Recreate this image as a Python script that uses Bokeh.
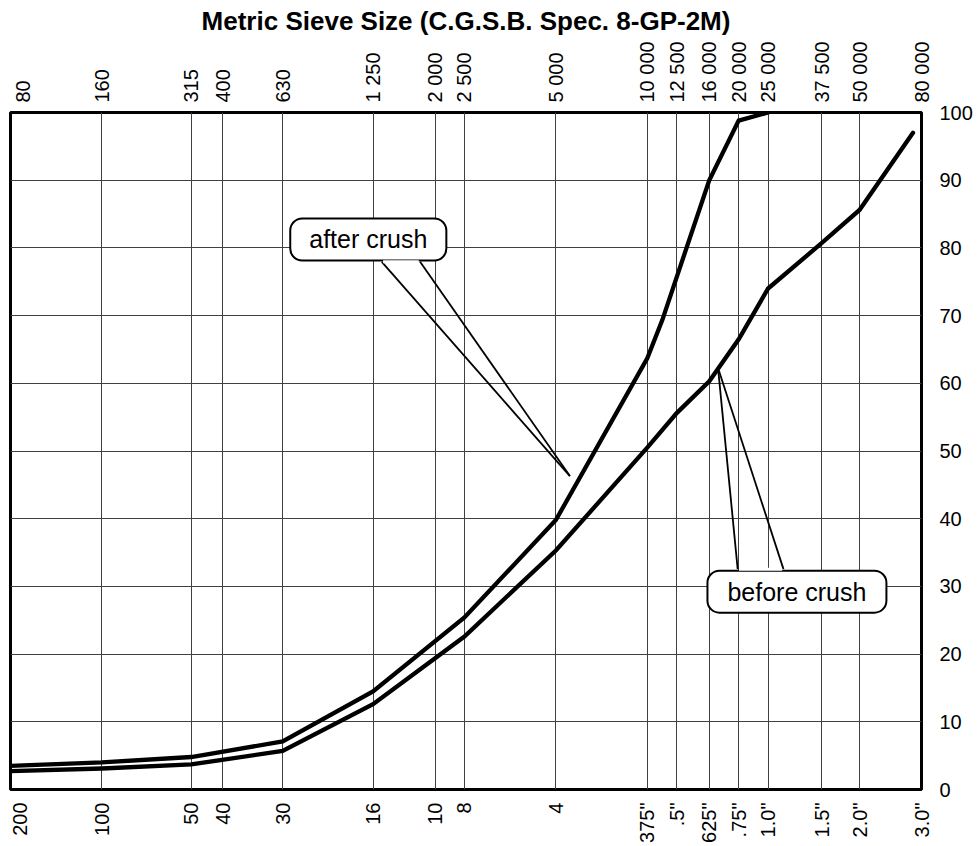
import numpy as np
from bokeh.plotting import figure
from bokeh.models import LogAxis, FixedTicker, Range1d, Label
from bokeh.embed import file_html
from bokeh.resources import INLINE

# ---------------- data ----------------
sieve_um = [80, 160, 315, 400, 630, 1250, 2000, 2500, 5000, 10000, 12500,
            16000, 20000, 25000, 37500, 50000, 80000]
metric_labels = ["80", "160", "315", "400", "630", "1 250", "2 000", "2 500",
                 "5 000", "10 000", "12 500", "16 000", "20 000", "25 000",
                 "37 500", "50 000", "80 000"]
us_labels = ["200", "100", "50", "40", "30", "16", "10", "8", "4", "375\"",
             ".5\"", "625\"", ".75\"", "1.0\"", "1.5\"", "2.0\"", "3.0\""]
pct_ticks = [0, 10, 20, 30, 40, 50, 60, 70, 80, 90, 100]

after_size = [80, 160, 315, 630, 1250, 2500, 5000, 10000, 11200, 16000, 20000, 25000]
after_pct = [3.5, 4.0, 4.8, 7.1, 14.5, 25.4, 39.8, 63.7, 69.3, 90.0, 98.8, 100.0]

before_size = [80, 160, 315, 630, 1250, 2500, 5000, 10000, 12500, 16000, 20000,
               25000, 37500, 50000, 75000]
before_pct = [2.7, 3.1, 3.7, 5.7, 12.6, 22.6, 35.3, 50.5, 55.6, 60.3, 66.5,
              74.0, 80.7, 85.6, 97.0]

title_text = "Metric Sieve Size (C.G.S.B. Spec. 8-GP-2M)"
after_text = "after crush"
before_text = "before crush"

# callout anchors (data space)
after_box = (1206, 81.25)
after_tip = (5562, 46.3)
after_base = [(1336, 77.94), (1786, 77.94)]
before_box = (31110, 29.22)
before_tip = (17105, 62.25)
before_base = [(19850, 32.55), (28090, 32.55)]

FONT = "Liberation Sans"

# label positions: first label of each scale is nudged inward from the frame edge
PX_PER_DECADE = 912 / 3.0
top_label_pos = list(sieve_um)
top_label_pos[0] = round(sieve_um[0] * 10 ** (12 / PX_PER_DECADE))
bot_label_pos = list(sieve_um)
bot_label_pos[0] = round(sieve_um[0] * 10 ** (11 / PX_PER_DECADE)) - 1

# ---------------- figure ----------------
p = figure(width=975, height=845, x_axis_type="log",
           x_range=Range1d(sieve_um[0], sieve_um[-1]), y_range=Range1d(0, 100),
           x_axis_location="above", y_axis_location="right",
           output_backend="svg", toolbar_location=None, title=title_text,
           min_border_left=10, min_border_right=53, min_border_top=110,
           min_border_bottom=55)

p.title.text_font = FONT
p.title.text_font_size = "26px"
p.title.text_font_style = "bold"
p.title.text_color = "black"
p.title.align = "center"
p.title.standoff = 6
p.title.offset = 0

p.outline_line_color = "black"
p.outline_line_width = 3
p.outline_line_alpha = 1

# grids
p.xgrid.ticker = FixedTicker(ticks=sieve_um)
p.ygrid.ticker = FixedTicker(ticks=pct_ticks)
for g in (p.xgrid, p.ygrid):
    g.grid_line_color = "#404040"
    g.grid_line_width = 1
    g.grid_line_alpha = 1

def style_axis(ax, standoff):
    ax.axis_line_color = None
    ax.major_tick_line_color = None
    ax.minor_tick_line_color = None
    ax.major_tick_out = 0
    ax.major_tick_in = 0
    ax.minor_tick_out = 0
    ax.minor_tick_in = 0
    ax.axis_label_standoff = 0
    ax.major_label_standoff = standoff
    ax.major_label_text_font = FONT
    ax.major_label_text_font_size = "20px"
    ax.major_label_text_color = "black"

# top axis: metric
top = p.xaxis[0]
top.ticker = FixedTicker(ticks=top_label_pos)
top.major_label_overrides = {s: l for s, l in zip(top_label_pos, metric_labels)}
top.major_label_orientation = np.pi / 2
style_axis(top, 10)

# bottom axis: US sieve
bot = LogAxis(ticker=FixedTicker(ticks=bot_label_pos))
bot.major_label_overrides = {s: l for s, l in zip(bot_label_pos, us_labels)}
bot.major_label_orientation = np.pi / 2
style_axis(bot, 13)
p.add_layout(bot, "below")

# right axis: percent
ra = p.yaxis[0]
ra.ticker = FixedTicker(ticks=pct_ticks)
style_axis(ra, 18)

# curves
p.line(after_size, after_pct, line_color="black", line_width=4.3, line_cap="round",
       line_join="miter")
p.line(before_size, before_pct, line_color="black", line_width=4.3, line_cap="round",
       line_join="miter")

# callout pointers
p.multi_line(xs=[[after_base[0][0], after_tip[0]], [after_base[1][0], after_tip[0]],
                 [before_base[0][0], before_tip[0]], [before_base[1][0], before_tip[0]]],
             ys=[[after_base[0][1], after_tip[1]], [after_base[1][1], after_tip[1]],
                 [before_base[0][1], before_tip[1]], [before_base[1][1], before_tip[1]]],
             line_color="black", line_width=1.8)

for (bx, by), txt, pad in ((after_box, after_text, 19), (before_box, before_text, 20)):
    p.add_layout(Label(x=bx, y=by, text=txt, text_align="center",
                       text_baseline="middle", text_font=FONT, text_color="black",
                       text_font_size="25px", background_fill_color="white",
                       border_line_color="black", border_line_width=2,
                       padding=(pad, 7), border_radius=12))

# open the box edge where each pointer joins it
p.segment(x0=[after_base[0][0] * 1.01, before_base[0][0] * 1.01],
          y0=[after_base[0][1], before_base[0][1]],
          x1=[after_base[1][0] / 1.01, before_base[1][0] / 1.01],
          y1=[after_base[1][1], before_base[1][1]],
          line_color="white", line_width=3, level="overlay")

open("out.html", "w").write(file_html(p, INLINE))
